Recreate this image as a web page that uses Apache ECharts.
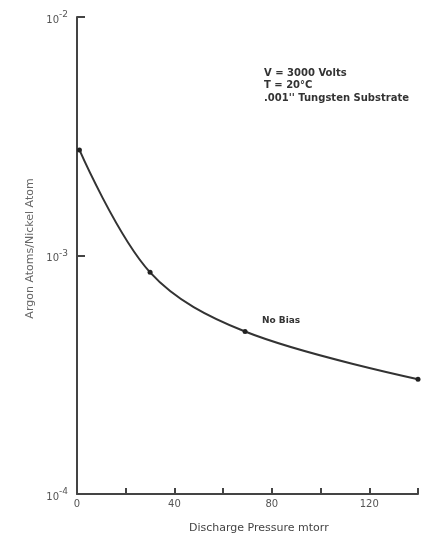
<!DOCTYPE html>
<html>
<head>
<meta charset="utf-8">
<script src="https://cdn.jsdelivr.net/npm/echarts@6/dist/echarts.min.js"></script>
<style>
  html, body { margin: 0; padding: 0; background: #fff; }
  #main { width: 424px; height: 536px; }
</style>
</head>
<body>
<div id="main"></div>
<script>
// discharge pressure (mtorr) and argon/nickel ratio
var pressure = [1, 30, 69, 140];
var ratio = [2.77e-3, 8.5e-4, 4.8e-4, 3.03e-4];
var xLabels = [0, 40, 80, 120];
var notes = ['V = 3000 Volts', 'T = 20\u00B0C', '.001\'\' Tungsten Substrate'];

var chart = echarts.init(document.getElementById('main'));

var pts = [];
for (var i = 0; i < pressure.length; i++) {
    pts.push([pressure[i], ratio[i]]);
}

var ink = '#444';

var option = {
    backgroundColor: '#fff',
    animation: false,
    grid: { left: 77, top: 17, right: 6, bottom: 42 },
    xAxis: {
        type: 'value',
        min: 0,
        max: 140,
        interval: 20,
        axisLine: { lineStyle: { color: ink, width: 2 } },
        axisTick: { inside: true, length: 6, lineStyle: { color: ink, width: 2 } },
        splitLine: { show: false },
        axisLabel: {
            color: '#555',
            fontSize: 10,
            fontFamily: 'DejaVu Sans',
            margin: 5,
            formatter: function (v) {
                return xLabels.indexOf(v) >= 0 ? String(v) : '';
            }
        }
    },
    yAxis: {
        type: 'log',
        logBase: 10,
        min: 1e-4,
        max: 1e-2,
        name: 'Argon Atoms/Nickel Atom',
        nameLocation: 'middle',
        nameGap: 39,
        nameRotate: 90,
        nameTextStyle: { color: '#666', fontSize: 11, fontFamily: 'DejaVu Sans', padding: [0, 0, 0, 14] },
        axisLine: { lineStyle: { color: ink, width: 2 } },
        axisTick: { inside: true, length: 8, lineStyle: { color: ink, width: 2 } },
        minorTick: { show: false },
        splitLine: { show: false },
        axisLabel: {
            margin: 9,
            formatter: function (v) {
                var e = Math.round(Math.log(v) / Math.LN10);
                return '{b|10}{s|' + e + '}';
            },
            rich: {
                b: { color: '#555', fontSize: 10, fontFamily: 'DejaVu Sans', padding: [6, 0, 0, 0] },
                s: { color: '#555', fontSize: 9, fontFamily: 'DejaVu Sans', padding: [0, 0, 4, 0] }
            }
        }
    },
    graphic: [
        {
            type: 'text',
            left: 264,
            top: 67,
            style: {
                text: notes.join('\n'),
                fill: '#333',
                font: 'bold 10px "DejaVu Sans"',
                lineHeight: 12.5
            }
        },
        {
            type: 'text',
            left: 262,
            top: 316,
            style: {
                text: 'No Bias',
                fill: '#333',
                font: 'bold 9px "DejaVu Sans"'
            }
        },
        {
            type: 'text',
            left: 189,
            top: 523,
            style: {
                text: 'Discharge Pressure mtorr',
                fill: '#444',
                font: '11px "DejaVu Sans"'
            }
        }
    ],
    series: [{
        type: 'line',
        data: pts,
        smooth: 0.35,
        symbol: 'circle',
        symbolSize: 5,
        lineStyle: { color: '#333', width: 2 },
        itemStyle: { color: '#222' }
    }]
};

chart.setOption(option);
</script>
</body>
</html>
